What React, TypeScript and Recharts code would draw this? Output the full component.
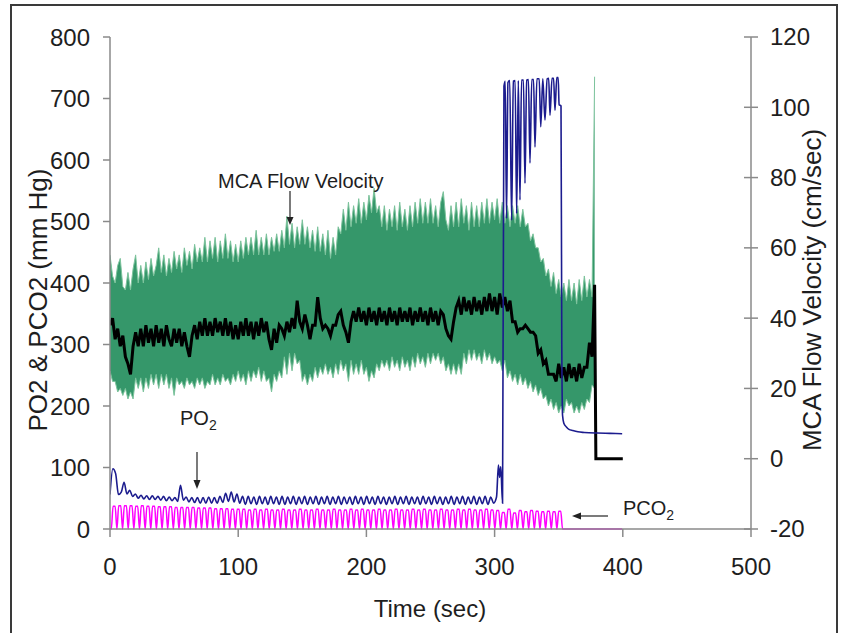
import React from 'react';
import { ComposedChart, Line, Area, XAxis, YAxis } from 'recharts';

const FONT = '"Liberation Sans", Arial, Helvetica, sans-serif';
const AXIS_GREY = '#8a8a8a';

// sampling of the traces (sec)
const MCA_STEP = 2;
const PO2_STEP = 2.2;
const PCO2_PERIOD = 4.4;

const timeTicks = [0, 100, 200, 300, 400, 500];
const gasTicks = [0, 100, 200, 300, 400, 500, 600, 700, 800];
const velocityTicks = [-20, 0, 20, 40, 60, 80, 100, 120];

// MCA flow velocity envelope (cm/sec), one value every 2 s from 0 to 378 s
const mcaHigh = [
  58, 52, 50, 55, 57, 49, 48, 53, 48, 54,
  58, 50, 55, 50, 56, 51, 57, 52, 55, 60,
  53, 58, 52, 57, 53, 59, 54, 58, 53, 60,
  55, 59, 54, 61, 56, 60, 56, 63, 56, 62,
  57, 63, 56, 62, 57, 64, 57, 62, 56, 61,
  56, 62, 57, 63, 58, 63, 58, 65, 58, 63,
  58, 64, 58, 63, 59, 64, 59, 65, 60, 69,
  61, 67, 60, 66, 61, 68, 61, 66, 60, 65,
  59, 66, 59, 64, 58, 65, 57, 63, 58, 66,
  64, 71, 65, 73, 66, 72, 67, 74, 67, 73,
  68, 75, 70, 77, 70, 72, 66, 72, 65, 71,
  66, 72, 65, 73, 66, 71, 65, 72, 66, 73,
  67, 74, 67, 73, 67, 74, 67, 72, 66, 73,
  76, 68, 65, 72, 66, 73, 66, 74, 67, 72,
  65, 73, 66, 72, 66, 73, 67, 74, 67, 73,
  68, 74, 67, 73, 67, 72, 66, 72, 67, 72,
  66, 71, 66, 67, 62, 64, 60, 60, 56, 57,
  52, 54, 49, 53, 47, 51, 46, 50, 45, 51,
  45, 50, 44, 51, 45, 52, 46, 51, 46, 108.7,
];

const mcaLow = [
  25, 22, 22, 19, 20, 18, 20, 17, 19, 17,
  23, 20, 23, 19, 23, 20, 24, 21, 24, 20,
  24, 21, 24, 20, 23, 18, 23, 21, 22, 20,
  23, 21, 22, 20, 23, 21, 23, 20, 22, 21,
  24, 21, 23, 21, 24, 22, 23, 21, 24, 22,
  25, 22, 24, 21, 25, 22, 25, 23, 26, 22,
  25, 22, 23, 19, 24, 22, 25, 23, 29, 24,
  30, 25, 30, 27, 28, 22, 24, 21, 24, 22,
  26, 23, 26, 24, 27, 24, 26, 23, 27, 24,
  28, 25, 27, 22, 28, 24, 27, 24, 28, 24,
  26, 22, 25, 23, 27, 25, 28, 26, 28, 25,
  29, 26, 28, 25, 29, 26, 28, 25, 29, 26,
  30, 27, 29, 26, 30, 27, 30, 28, 30, 27,
  29, 25, 27, 24, 27, 24, 27, 24, 30, 27,
  31, 28, 31, 28, 30, 27, 31, 28, 30, 27,
  29, 27, 28, 25, 28, 23, 25, 22, 24, 21,
  24, 21, 23, 20, 22, 19, 21, 18, 20, 17,
  18, 15, 17, 14, 16, 13, 15, 13, 17, 15,
  16, 13, 15, 13, 16, 14, 17, 16, 21, 20,
];

// mean MCA flow velocity (black), same 2 s grid, then the drop to zero
const mcaMean = [
  38, 40, 34, 37, 32, 35, 29, 27, 24, 32,
  36, 32, 37, 32, 38, 33, 37, 32, 38, 33,
  37, 32, 38, 34, 32, 37, 33, 37, 32, 36,
  32, 29, 35, 38, 34, 39, 35, 40, 35, 39,
  35, 40, 36, 39, 35, 40, 35, 39, 34, 38,
  34, 39, 35, 40, 35, 39, 34, 39, 35, 40,
  36, 39, 34, 31, 37, 33, 38, 37, 35, 39,
  36, 40, 37, 45, 39, 37, 41, 38, 34, 38,
  38, 46, 40, 37, 38, 37, 35, 38, 38, 41,
  42, 38, 36, 33, 39, 42, 39, 43, 39, 42,
  38, 43, 39, 42, 38, 43, 39, 42, 38, 43,
  39, 42, 38, 43, 39, 42, 39, 43, 38, 42,
  39, 43, 39, 42, 38, 43, 39, 42, 38, 42,
  41, 37, 35, 34, 39, 43, 45, 41, 46, 42,
  45, 41, 46, 42, 45, 41, 46, 42, 47, 42,
  46, 41, 47, 43, 46, 42, 45, 39, 39, 36,
  37, 37, 38, 37, 36, 36, 35, 30, 31, 27,
  28, 24, 24, 24, 22, 27, 23, 26, 22, 27,
  23, 26, 22, 27, 23, 26, 26, 33, 29, 49.5,
];
const mcaMeanTailT = [379, 400];
const mcaMeanTailV = [0, 0];

// PO2 (mm Hg), every 2.2 s from 0 to 299.2 s
const po2Main = [
  56, 98, 90, 56, 60, 76, 57, 63, 53, 57,
  50, 55, 49, 54, 48, 54, 48, 53, 47, 53,
  46, 52, 46, 51, 45, 71, 47, 52, 44, 51,
  43, 51, 42, 51, 42, 52, 42, 51, 42, 53,
  43, 58, 45, 60, 44, 57, 42, 53, 40, 53,
  41, 52, 40, 53, 41, 52, 40, 53, 41, 52,
  40, 53, 40, 52, 41, 53, 40, 52, 41, 53,
  40, 52, 41, 53, 40, 52, 41, 53, 40, 52,
  41, 53, 40, 52, 41, 52, 40, 53, 41, 52,
  40, 53, 41, 52, 40, 53, 41, 52, 40, 52,
  41, 53, 40, 52, 41, 53, 40, 52, 41, 52,
  40, 53, 41, 52, 40, 53, 41, 52, 40, 52,
  41, 53, 40, 52, 41, 53, 40, 52, 41, 53,
  40, 52, 41, 53, 40, 52, 42,
];
// PO2 after 300 s: jump to ~730, dips, then fall to ~155
const po2TailT = [
  301.5, 303.0, 303.9, 304.8, 306.2, 307.3, 308.3, 309.3, 310.4, 311.8,
  313.3, 314.6, 316.0, 317.2, 318.5, 319.8, 321.0, 322.5, 323.7, 325.0,
  326.4, 327.6, 329.0, 330.4, 331.5, 333.0, 334.8, 336.0, 337.6, 339.3,
  341.0, 342.2, 343.2, 344.8, 346.0, 347.1, 348.5, 349.6, 350.3, 351.8,
  352.4, 353.0, 354.0, 356.0, 358.0, 361.0, 365.0, 370.0, 380.0, 390.0, 399.5,
];
const po2TailV = [
  52, 104, 84, 101, 42, 720, 728, 505, 726, 729,
  502, 728, 729, 513, 729, 535, 730, 730, 562, 730,
  731, 595, 731, 731, 621, 732, 732, 654, 732, 665,
  732, 733, 673, 733, 733, 681, 734, 734, 690, 688,
  300, 185, 172, 166, 162, 160, 158, 157, 156, 155.5, 155,
];

// PCO2 (mm Hg) peak of each breath, one breath every 4.4 s, baseline 0
const pco2Peaks = [
  37, 38, 38, 38, 37, 38, 37, 37, 36, 36,
  36, 35, 35, 35, 35, 34, 34, 34, 33, 33,
  33, 32, 32, 32, 31, 32, 31, 32, 31, 31,
  32, 31, 31, 32, 31, 31, 32, 31, 31, 32,
  31, 31, 32, 31, 32, 31, 31, 32, 31, 31,
  32, 31, 31, 32, 31, 32, 31, 31, 32, 31,
  31, 32, 31, 32, 31, 31, 32, 31, 30, 27,
  32, 26, 30, 28, 30, 29, 28, 29, 28, 29,
];
const PCO2_BASE = 0;
const pco2EndT = [353.0, 399.5];

const mcaData = mcaHigh.map((hi, i) => ({ t: i * MCA_STEP, range: [mcaLow[i], hi] }));

const meanData = [
  ...mcaMean.map((v, i) => ({ t: i * MCA_STEP, v })),
  ...mcaMeanTailT.map((t, i) => ({ t, v: mcaMeanTailV[i] })),
];

const po2Data = [
  ...po2Main.map((v, i) => ({ t: i * PO2_STEP, v })),
  ...po2TailT.map((t, i) => ({ t, v: po2TailV[i] })),
];

const pco2Data: { t: number; v: number }[] = [{ t: 0, v: PCO2_BASE }];
pco2Peaks.forEach((p, k) => {
  const t0 = 1 + k * PCO2_PERIOD;
  pco2Data.push({ t: t0, v: PCO2_BASE }, { t: t0 + 1.4, v: p }, { t: t0 + 3.0, v: p });
});
pco2EndT.forEach((t) => pco2Data.push({ t, v: PCO2_BASE }));

const RightTick = (props: any) => {
  const { x, y, payload } = props;
  return (
    <g>
      <line x1={x - 7} x2={x + 7} y1={y} y2={y} stroke={AXIS_GREY} strokeWidth={1.5} />
      <text x={x + 19} y={y} dy="0.35em" textAnchor="start" fontSize={24} fill="#1e1e1e" fontFamily={FONT}>
        {payload.value}
      </text>
    </g>
  );
};

const tickStyle = { fontSize: 24, fill: '#1e1e1e', fontFamily: FONT };

export default function App() {
  return (
    <div style={{ position: 'absolute', left: 0, top: 0, width: 841, height: 633, background: '#fff', fontFamily: FONT, overflow: 'hidden' }}>
      <div style={{ position: 'absolute', left: 10, top: 4, width: 824, height: 650, border: '2px solid #3a3a3a' }} />
      <ComposedChart width={841} height={633} margin={{ top: 37, right: 30, bottom: 44, left: 40 }}>
        <XAxis
          type="number"
          dataKey="t"
          domain={[0, 500]}
          ticks={timeTicks}
          interval={0}
          height={60}
          tickSize={8}
          tickMargin={21}
          tick={tickStyle}
          stroke={AXIS_GREY}
          strokeWidth={1.5}
          allowDataOverflow
        />
        <YAxis
          yAxisId="gas"
          domain={[0, 800]}
          ticks={gasTicks}
          interval={0}
          width={70}
          tickSize={7}
          tickMargin={13}
          tick={tickStyle}
          stroke={AXIS_GREY}
          strokeWidth={1.5}
        />
        <YAxis
          yAxisId="mca"
          orientation="right"
          domain={[-20, 120]}
          ticks={velocityTicks}
          interval={0}
          width={60}
          tickSize={0}
          tickMargin={0}
          tickLine={false}
          tick={<RightTick />}
          stroke={AXIS_GREY}
          strokeWidth={1.5}
        />
        <Area
          yAxisId="mca"
          data={mcaData}
          dataKey="range"
          type="linear"
          stroke="#7cc39c"
          strokeWidth={1}
          fill="#35976a"
          fillOpacity={1}
          isAnimationActive={false}
          dot={false}
          activeDot={false}
        />
        <Line
          yAxisId="mca"
          data={meanData}
          dataKey="v"
          type="linear"
          stroke="#000"
          strokeWidth={3}
          dot={false}
          activeDot={false}
          isAnimationActive={false}
        />
        <Line
          yAxisId="gas"
          data={po2Data}
          dataKey="v"
          type="monotone"
          stroke="#1c1c8e"
          strokeWidth={1.6}
          dot={false}
          activeDot={false}
          isAnimationActive={false}
        />
        <Line
          yAxisId="gas"
          data={pco2Data}
          dataKey="v"
          type="monotone"
          stroke="#ff00ff"
          strokeWidth={1.5}
          dot={false}
          activeDot={false}
          isAnimationActive={false}
        />
      </ComposedChart>
      <svg width={841} height={633} style={{ position: 'absolute', left: 0, top: 0, pointerEvents: 'none' }} fontFamily={FONT}>
        <text transform="translate(38,300) rotate(-90)" textAnchor="middle" dy="0.35em" fontSize={26} fill="#1e1e1e">
          PO2 &amp; PCO2 (mm Hg)
        </text>
        <text transform="translate(812,290) rotate(-90)" textAnchor="middle" dy="0.35em" fontSize={26} fill="#1e1e1e">
          MCA Flow Velocity (cm/sec)
        </text>
        <text x={430} y={617} textAnchor="middle" fontSize={24} fill="#1e1e1e">
          Time (sec)
        </text>

        <text x={218} y={188} fontSize={20} fill="#1e1e1e">MCA Flow Velocity</text>
        <line x1={290} y1={191} x2={290} y2={218} stroke="#333" strokeWidth={1.3} />
        <polygon points="286.5,217 293.5,217 290,225" fill="#222" />

        <text x={180} y={425} fontSize={20} fill="#1e1e1e">
          PO<tspan fontSize={14} dy={5}>2</tspan>
        </text>
        <line x1={197} y1={452} x2={197} y2={481} stroke="#333" strokeWidth={1.3} />
        <polygon points="193.5,480 200.5,480 197,489" fill="#222" />

        <text x={623} y={515} fontSize={20} fill="#1e1e1e">
          PCO<tspan fontSize={14} dy={5}>2</tspan>
        </text>
        <line x1={608} y1={516} x2={580} y2={516} stroke="#333" strokeWidth={1.3} />
        <polygon points="581,512.5 581,519.5 572,516" fill="#222" />
      </svg>
    </div>
  );
}
